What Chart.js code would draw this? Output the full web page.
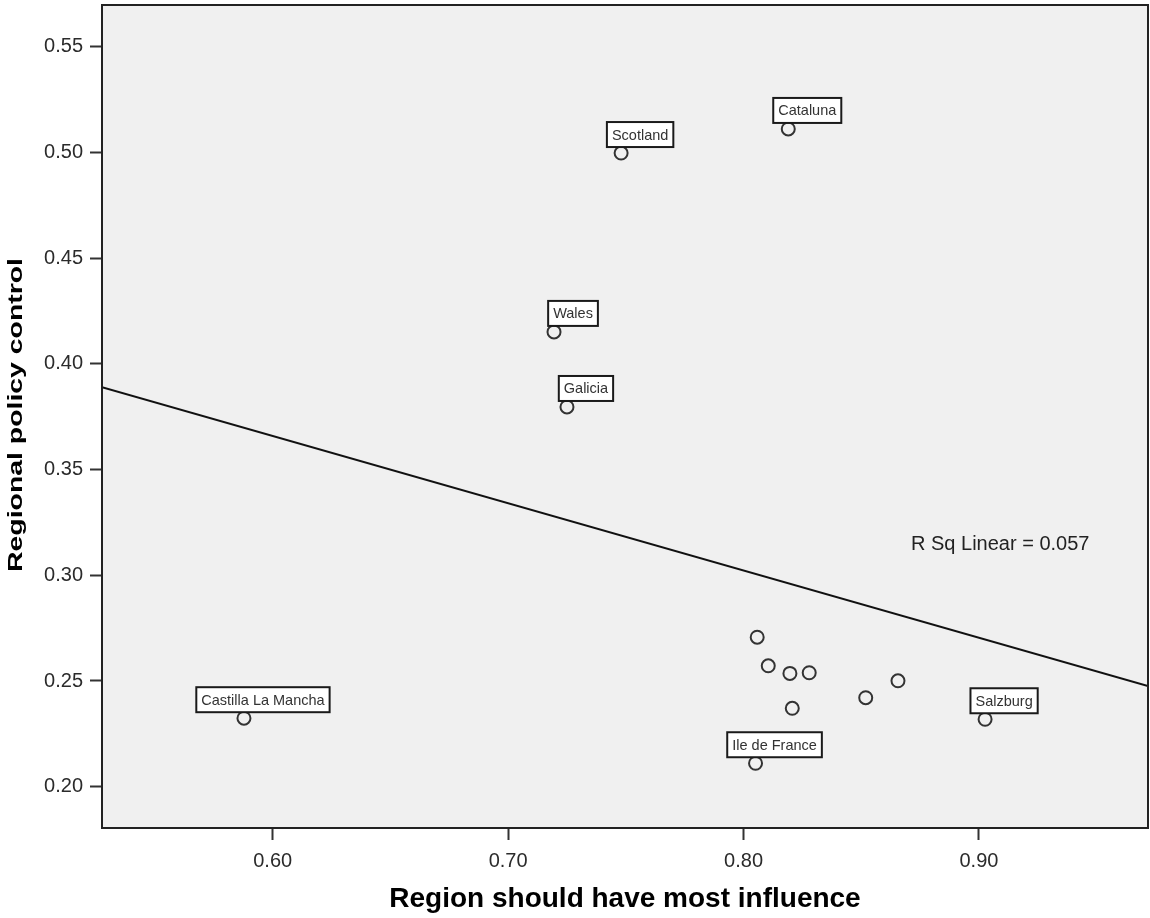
<!DOCTYPE html>
<html>
<head>
<meta charset="utf-8">
<title>Regional policy control vs. region influence</title>
<script src="https://cdn.jsdelivr.net/npm/chart.js@4"></script>
<style>
    body { margin: 0; background: #ffffff; }
    canvas { display: block; }
</style>
</head>
<body>
<canvas id="scatterChart" width="1150" height="918"></canvas>
<script>
// Region names (empty string = point has no label)
const regionNames = [
    "Scotland", "Cataluna", "Wales", "Galicia", "Castilla La Mancha",
    "Ile de France", "Salzburg", "", "", "", "", "", "", ""
];

// X values: Region should have most influence
const influenceValues = [
    0.748, 0.819, 0.7195, 0.725, 0.5878,
    0.8051, 0.9026, 0.8058, 0.8105, 0.8197, 0.8279, 0.8207, 0.8519, 0.8656
];

// Y values: Regional policy control
const controlValues = [
    0.4997, 0.5111, 0.4151, 0.3796, 0.2324,
    0.2111, 0.2319, 0.2707, 0.2572, 0.2536, 0.2539, 0.2371, 0.2421, 0.2501
];

// Fit line end points
const fitX = [0.5275, 0.9718];
const fitY = [0.3890, 0.2476];
const rSquared = "0.057";

// Axis tick labels
const xTicks = [0.60, 0.70, 0.80, 0.90];
const yTicks = [0.20, 0.25, 0.30, 0.35, 0.40, 0.45, 0.50, 0.55];

const FONT = "'Liberation Sans', Arial, sans-serif";

// Grey plot background and the frame around it
const plotFrame = {
    id: "plotFrame",
    beforeDraw(chart) {
        const a = chart.chartArea;
        const ctx = chart.ctx;
        ctx.save();
        ctx.fillStyle = "#f0f0f0";
        ctx.fillRect(a.left, a.top, a.right - a.left, a.bottom - a.top);
        ctx.restore();
    },
    afterDraw(chart) {
        const a = chart.chartArea;
        const ctx = chart.ctx;
        ctx.save();
        ctx.strokeStyle = "#222222";
        ctx.lineWidth = 2;
        ctx.strokeRect(a.left, a.top, a.right - a.left, a.bottom - a.top);
        ctx.restore();
    }
};

// Boxed labels above the named points, plus R squared text and axis titles
const pointLabels = {
    id: "pointLabels",
    afterDatasetsDraw(chart) {
        const ctx = chart.ctx;
        const meta = chart.getDatasetMeta(0);
        ctx.save();
        ctx.font = "14.5px " + FONT;
        ctx.textAlign = "center";
        ctx.textBaseline = "middle";
        meta.data.forEach((pt, i) => {
            const name = regionNames[i];
            if (!name) return;
            const w = ctx.measureText(name).width + 10;
            const h = 25;
            const cx = pt.x + 19;
            const bottom = pt.y - 6;
            ctx.fillStyle = "#ffffff";
            ctx.fillRect(cx - w / 2, bottom - h, w, h);
            ctx.strokeStyle = "#1a1a1a";
            ctx.lineWidth = 2;
            ctx.strokeRect(cx - w / 2, bottom - h, w, h);
            ctx.fillStyle = "#333333";
            ctx.fillText(name, cx, bottom - h / 2 + 1);
        });

        // R squared note
        ctx.font = "20px " + FONT;
        ctx.textAlign = "left";
        ctx.textBaseline = "alphabetic";
        ctx.fillStyle = "#222222";
        ctx.fillText("R Sq Linear = " + rSquared, 911, 550);
        ctx.restore();
    },
    afterDraw(chart) {
        const ctx = chart.ctx;
        const a = chart.chartArea;
        ctx.save();
        ctx.fillStyle = "#000000";
        ctx.textBaseline = "alphabetic";
        ctx.textAlign = "center";

        // x title
        ctx.font = "bold 28px " + FONT;
        ctx.fillText("Region should have most influence", (a.left + a.right) / 2, 907);

        // y title (stretched along its length like the original)
        ctx.font = "bold 20px " + FONT;
        ctx.translate(22, 415);
        ctx.rotate(-Math.PI / 2);
        ctx.scale(1.42, 1);
        ctx.fillText("Regional policy control", 0, 0);
        ctx.restore();
    }
};

// Fixed axis sizes, no extra padding for overflowing tick labels
function fixX(scale) {
    scale.height = 90;
    scale.paddingLeft = 0;
    scale.paddingRight = 0;
    scale.paddingTop = 0;
    scale.paddingBottom = 0;
}
function fixY(scale) {
    scale.width = 102;
    scale.paddingLeft = 0;
    scale.paddingRight = 0;
    scale.paddingTop = 0;
    scale.paddingBottom = 0;
}

const points = influenceValues.map((x, i) => ({ x: x, y: controlValues[i] }));
const fitLine = fitX.map((x, i) => ({ x: x, y: fitY[i] }));

const ctx = document.getElementById("scatterChart").getContext("2d");

new Chart(ctx, {
    type: "scatter",
    data: {
        datasets: [
            {
                data: points,
                pointRadius: 6.5,
                pointHoverRadius: 6.5,
                pointBorderWidth: 2,
                pointBorderColor: "#333333",
                pointBackgroundColor: "rgba(0,0,0,0)",
                order: 1
            },
            {
                data: fitLine,
                showLine: true,
                borderColor: "#111111",
                borderWidth: 2,
                pointRadius: 0,
                order: 2
            }
        ]
    },
    options: {
        responsive: false,
        animation: false,
        devicePixelRatio: 1,
        layout: {
            autoPadding: false,
            padding: { top: 5, right: 2, left: 0, bottom: 0 }
        },
        plugins: {
            legend: { display: false },
            tooltip: { enabled: false }
        },
        scales: {
            x: {
                type: "linear",
                min: 0.5275,
                max: 0.9718,
                afterBuildTicks: scale => { scale.ticks = xTicks.map(v => ({ value: v })); },
                afterFit: fixX,
                grid: {
                    drawOnChartArea: false,
                    drawTicks: true,
                    tickLength: 12,
                    tickWidth: 2,
                    tickColor: "#333333"
                },
                border: { display: false },
                ticks: {
                    autoSkip: false,
                    maxRotation: 0,
                    padding: 9,
                    color: "#2b2b2b",
                    font: { family: FONT, size: 20 },
                    callback: v => v.toFixed(2)
                }
            },
            y: {
                type: "linear",
                min: 0.18047,
                max: 0.56972,
                afterBuildTicks: scale => { scale.ticks = yTicks.map(v => ({ value: v })); },
                afterFit: fixY,
                grid: {
                    drawOnChartArea: false,
                    drawTicks: true,
                    tickLength: 12,
                    tickWidth: 2,
                    tickColor: "#333333"
                },
                border: { display: false },
                ticks: {
                    autoSkip: false,
                    padding: 7,
                    color: "#2b2b2b",
                    font: { family: FONT, size: 20 },
                    callback: v => v.toFixed(2)
                }
            }
        }
    },
    plugins: [plotFrame, pointLabels]
});
</script>
</body>
</html>
